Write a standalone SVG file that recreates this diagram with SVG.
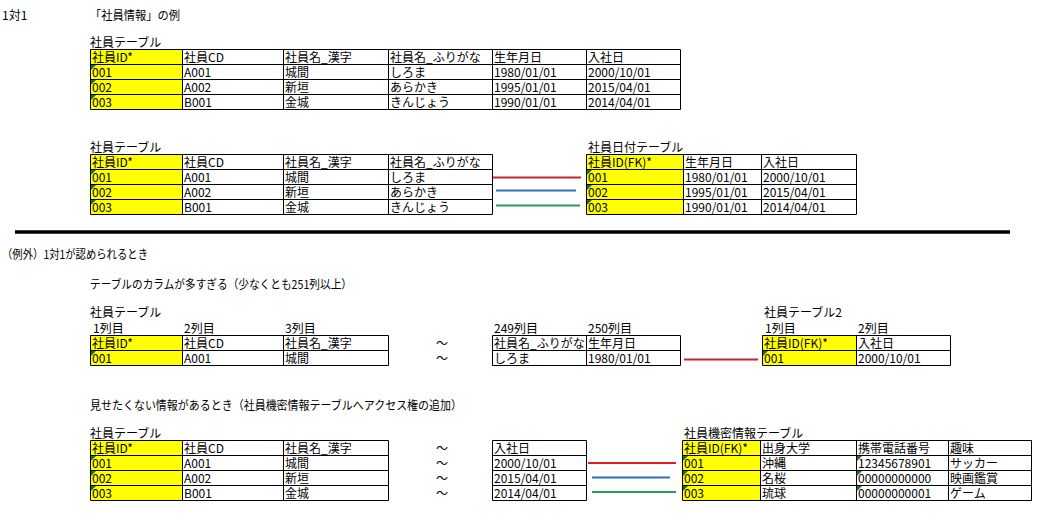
<svg xmlns="http://www.w3.org/2000/svg" width="1041" height="523" viewBox="0 0 1041 523">
<style>
.t{font-family:"Noto Sans CJK JP","Liberation Sans",sans-serif;font-size:12px;fill:#000}
.key{fill:#ffff00}
.box{fill:none;stroke:#000;stroke-width:1}
.tri{fill:#2d6b2d}
.c{fill:none;stroke-width:2}
</style>
<rect width="1041" height="523" fill="#fff"/>

<g id="titles">
<text class="t" x="2" y="20">1対1</text>
<text class="t" x="90" y="20" textLength="90" lengthAdjust="spacingAndGlyphs">「社員情報」の例</text>
<text class="t" x="2" y="259" textLength="146" lengthAdjust="spacingAndGlyphs">（例外）1対1が認められるとき</text>
<text class="t" x="90" y="289" textLength="262" lengthAdjust="spacingAndGlyphs">テーブルのカラムが多すぎる（少なくとも251列以上）</text>
<text class="t" x="90" y="410" textLength="372" lengthAdjust="spacingAndGlyphs">見せたくない情報があるとき（社員機密情報テーブルへアクセス権の追加）</text>
</g>

<g id="tbl-emp-1">
<text class="t" x="90" y="46.5">社員テーブル</text>
<rect class="key" x="90.5" y="49.5" width="92" height="60"/>
<path class="box" d="M90.5 49.5H680.5V109.5H90.5Z M182.5 49.5V109.5 M283.5 49.5V109.5 M388.5 49.5V109.5 M492.5 49.5V109.5 M586.5 49.5V109.5 M90.5 64.5H680.5 M90.5 79.5H680.5 M90.5 94.5H680.5"/>
<path class="tri" d="M91 65h5l-5 5Z M91 80h5l-5 5Z M91 95h5l-5 5Z"/>
<text class="t" x="92" y="62">社員ID*</text><text class="t" x="184" y="62">社員CD</text><text class="t" x="285" y="62">社員名_漢字</text><text class="t" x="390" y="62">社員名_ふりがな</text><text class="t" x="494" y="62">生年月日</text><text class="t" x="588" y="62">入社日</text>
<text class="t" x="92" y="77">001</text><text class="t" x="184" y="77">A001</text><text class="t" x="285" y="77">城間</text><text class="t" x="390" y="77">しろま</text><text class="t" x="494" y="77">1980/01/01</text><text class="t" x="588" y="77">2000/10/01</text>
<text class="t" x="92" y="92">002</text><text class="t" x="184" y="92">A002</text><text class="t" x="285" y="92">新垣</text><text class="t" x="390" y="92">あらかき</text><text class="t" x="494" y="92">1995/01/01</text><text class="t" x="588" y="92">2015/04/01</text>
<text class="t" x="92" y="107">003</text><text class="t" x="184" y="107">B001</text><text class="t" x="285" y="107">金城</text><text class="t" x="390" y="107">きんじょう</text><text class="t" x="494" y="107">1990/01/01</text><text class="t" x="588" y="107">2014/04/01</text>
</g>

<g id="tbl-emp-2">
<text class="t" x="90" y="151.5">社員テーブル</text>
<rect class="key" x="90.5" y="154.5" width="92" height="60"/>
<path class="box" d="M90.5 154.5H492.5V214.5H90.5Z M182.5 154.5V214.5 M283.5 154.5V214.5 M388.5 154.5V214.5 M90.5 169.5H492.5 M90.5 184.5H492.5 M90.5 199.5H492.5"/>
<path class="tri" d="M91 170h5l-5 5Z M91 185h5l-5 5Z M91 200h5l-5 5Z"/>
<text class="t" x="92" y="167">社員ID*</text><text class="t" x="184" y="167">社員CD</text><text class="t" x="285" y="167">社員名_漢字</text><text class="t" x="390" y="167">社員名_ふりがな</text>
<text class="t" x="92" y="182">001</text><text class="t" x="184" y="182">A001</text><text class="t" x="285" y="182">城間</text><text class="t" x="390" y="182">しろま</text>
<text class="t" x="92" y="197">002</text><text class="t" x="184" y="197">A002</text><text class="t" x="285" y="197">新垣</text><text class="t" x="390" y="197">あらかき</text>
<text class="t" x="92" y="212">003</text><text class="t" x="184" y="212">B001</text><text class="t" x="285" y="212">金城</text><text class="t" x="390" y="212">きんじょう</text>
</g>

<g id="tbl-date">
<text class="t" x="588" y="151.5">社員日付テーブル</text>
<rect class="key" x="586.5" y="154.5" width="97" height="60"/>
<path class="box" d="M586.5 154.5H856.5V214.5H586.5Z M683.5 154.5V214.5 M761.5 154.5V214.5 M586.5 169.5H856.5 M586.5 184.5H856.5 M586.5 199.5H856.5"/>
<path class="tri" d="M587 170h5l-5 5Z M587 185h5l-5 5Z M587 200h5l-5 5Z"/>
<text class="t" x="588" y="167">社員ID(FK)*</text><text class="t" x="685" y="167">生年月日</text><text class="t" x="763" y="167">入社日</text>
<text class="t" x="588" y="182">001</text><text class="t" x="685" y="182">1980/01/01</text><text class="t" x="763" y="182">2000/10/01</text>
<text class="t" x="588" y="197">002</text><text class="t" x="685" y="197">1995/01/01</text><text class="t" x="763" y="197">2015/04/01</text>
<text class="t" x="588" y="212">003</text><text class="t" x="685" y="212">1990/01/01</text><text class="t" x="763" y="212">2014/04/01</text>
</g>

<g id="divider">
<path d="M15 232H1010" stroke="#000" stroke-width="3.5"/>
</g>

<g id="tbl-emp-3">
<text class="t" x="90" y="316.5">社員テーブル</text>
<text class="t" x="93" y="332.5">1列目</text><text class="t" x="184" y="332.5">2列目</text><text class="t" x="285" y="332.5">3列目</text>
<rect class="key" x="90.5" y="335.5" width="92" height="30"/>
<path class="box" d="M90.5 335.5H388.5V365.5H90.5Z M182.5 335.5V365.5 M283.5 335.5V365.5 M90.5 350.5H388.5"/>
<path class="tri" d="M91 351h5l-5 5Z"/>
<text class="t" x="92" y="348">社員ID*</text><text class="t" x="184" y="348">社員CD</text><text class="t" x="285" y="348">社員名_漢字</text>
<text class="t" x="92" y="363">001</text><text class="t" x="184" y="363">A001</text><text class="t" x="285" y="363">城間</text>
<text class="t" x="436" y="348">～</text><text class="t" x="436" y="363">～</text>
<text class="t" x="494" y="332.5">249列目</text><text class="t" x="588" y="332.5">250列目</text>
<path class="box" d="M492.5 335.5H680.5V365.5H492.5Z M586.5 335.5V365.5 M492.5 350.5H680.5"/>
<text class="t" x="494" y="348">社員名_ふりがな</text><text class="t" x="588" y="348">生年月日</text>
<text class="t" x="494" y="363">しろま</text><text class="t" x="588" y="363">1980/01/01</text>
</g>

<g id="tbl-emp2">
<text class="t" x="764" y="316.5">社員テーブル2</text>
<text class="t" x="765" y="332.5">1列目</text><text class="t" x="858" y="332.5">2列目</text>
<rect class="key" x="762.5" y="335.5" width="94" height="30"/>
<path class="box" d="M762.5 335.5H950.5V365.5H762.5Z M856.5 335.5V365.5 M762.5 350.5H950.5"/>
<path class="tri" d="M763 351h5l-5 5Z"/>
<text class="t" x="764" y="348">社員ID(FK)*</text><text class="t" x="858" y="348">入社日</text>
<text class="t" x="764" y="363">001</text><text class="t" x="858" y="363">2000/10/01</text>
</g>

<g id="tbl-emp-4">
<text class="t" x="90" y="437.5">社員テーブル</text>
<rect class="key" x="90.5" y="440.5" width="92" height="60"/>
<path class="box" d="M90.5 440.5H388.5V500.5H90.5Z M182.5 440.5V500.5 M283.5 440.5V500.5 M90.5 455.5H388.5 M90.5 470.5H388.5 M90.5 485.5H388.5"/>
<path class="tri" d="M91 456h5l-5 5Z M91 471h5l-5 5Z M91 486h5l-5 5Z"/>
<text class="t" x="92" y="453">社員ID*</text><text class="t" x="184" y="453">社員CD</text><text class="t" x="285" y="453">社員名_漢字</text>
<text class="t" x="92" y="468">001</text><text class="t" x="184" y="468">A001</text><text class="t" x="285" y="468">城間</text>
<text class="t" x="92" y="483">002</text><text class="t" x="184" y="483">A002</text><text class="t" x="285" y="483">新垣</text>
<text class="t" x="92" y="498">003</text><text class="t" x="184" y="498">B001</text><text class="t" x="285" y="498">金城</text>
<text class="t" x="436" y="453">～</text><text class="t" x="436" y="468">～</text><text class="t" x="436" y="483">～</text><text class="t" x="436" y="498">～</text>
<path class="box" d="M492.5 440.5H586.5V500.5H492.5Z M492.5 455.5H586.5 M492.5 470.5H586.5 M492.5 485.5H586.5"/>
<text class="t" x="494" y="453">入社日</text>
<text class="t" x="494" y="468">2000/10/01</text>
<text class="t" x="494" y="483">2015/04/01</text>
<text class="t" x="494" y="498">2014/04/01</text>
</g>

<g id="tbl-secret">
<text class="t" x="684" y="437.5">社員機密情報テーブル</text>
<rect class="key" x="682.5" y="440.5" width="78" height="60"/>
<path class="box" d="M682.5 440.5H1031.5V500.5H682.5Z M760.5 440.5V500.5 M856.5 440.5V500.5 M948.5 440.5V500.5 M682.5 455.5H1031.5 M682.5 470.5H1031.5 M682.5 485.5H1031.5"/>
<path class="tri" d="M683 456h5l-5 5Z M683 471h5l-5 5Z M683 486h5l-5 5Z M857 456h5l-5 5Z M857 471h5l-5 5Z M857 486h5l-5 5Z"/>
<text class="t" x="684" y="453">社員ID(FK)*</text><text class="t" x="762" y="453">出身大学</text><text class="t" x="858" y="453">携帯電話番号</text><text class="t" x="950" y="453">趣味</text>
<text class="t" x="684" y="468">001</text><text class="t" x="762" y="468">沖縄</text><text class="t" x="858" y="468">12345678901</text><text class="t" x="950" y="468">サッカー</text>
<text class="t" x="684" y="483">002</text><text class="t" x="762" y="483">名桜</text><text class="t" x="858" y="483">00000000000</text><text class="t" x="950" y="483">映画鑑賞</text>
<text class="t" x="684" y="498">003</text><text class="t" x="762" y="498">琉球</text><text class="t" x="858" y="498">00000000001</text><text class="t" x="950" y="498">ゲーム</text>
</g>

<g id="connectors">
<path class="c" stroke="#c0282d" d="M493 177.5H581"/>
<path class="c" stroke="#2e6fb7" d="M496 190.5H576"/>
<path class="c" stroke="#2e9a5c" d="M496 205.5H580"/>
<path class="c" stroke="#c0282d" d="M684 359.5H758"/>
<path class="c" stroke="#e02020" d="M588 463H676"/>
<path class="c" stroke="#2e6fb7" d="M592 477.5H670"/>
<path class="c" stroke="#2e9a5c" d="M592 492H676"/>
</g>
</svg>
